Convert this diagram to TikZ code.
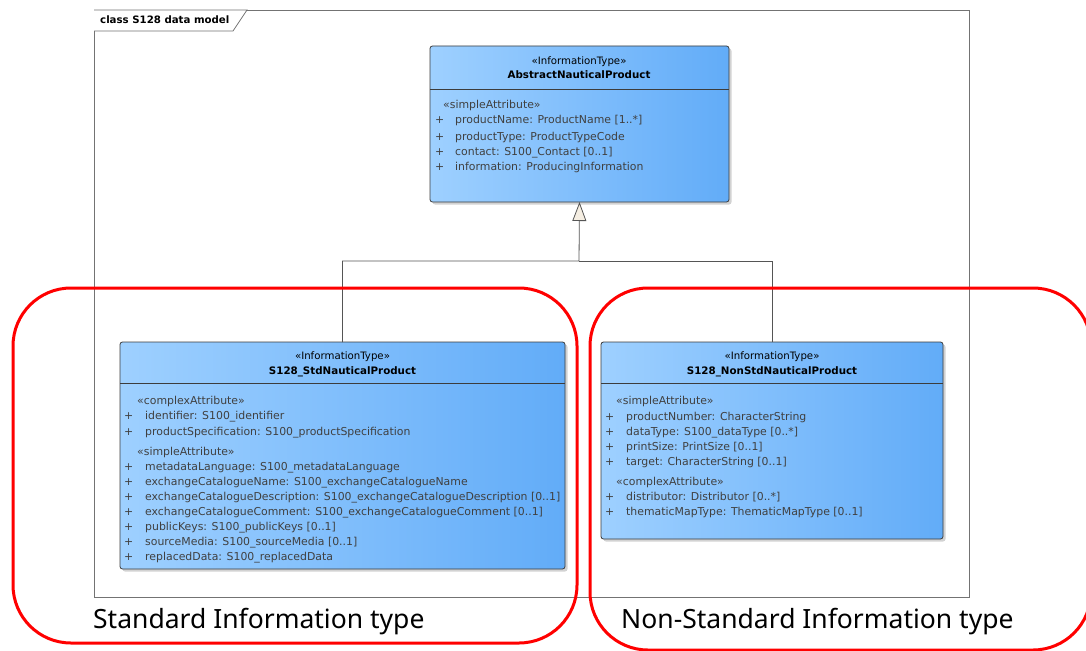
\documentclass[tikz,border=0pt]{standalone}
\usepackage{fontspec}
\setmainfont{DejaVu Sans}
\newfontfamily\labelfont{Noto Sans}
\usetikzlibrary{arrows.meta,shadows}
\definecolor{boxL}{RGB}{158,208,255}
\definecolor{boxR}{RGB}{98,172,248}
\definecolor{boxline}{RGB}{60,60,60}
\definecolor{attr}{RGB}{64,64,64}
\definecolor{tri}{RGB}{245,238,226}
\definecolor{conn}{RGB}{85,85,85}
\begin{document}
\begin{tikzpicture}[x=1pt,y=-1pt,
  umlbox/.style={draw=boxline, line width=0.8pt, rounded corners=2.5pt, left color=boxL, right color=boxR,
    inner sep=0pt, outer sep=0pt, anchor=north west,
    drop shadow={shadow xshift=2.5pt, shadow yshift=-2.5pt, fill=black!35, opacity=0.5}},
  sep/.style={draw=boxline, line width=0.8pt},
  txt/.style={font=\fontsize{10.9}{12}\selectfont, text=attr, inner sep=0pt, anchor=base west},
  stereo/.style={font=\fontsize{10.2}{12}\selectfont, text=black, inner sep=0pt, anchor=base},
  cname/.style={font=\bfseries\fontsize{10.3}{12}\selectfont, text=black, inner sep=0pt, anchor=base},
  conline/.style={draw=conn, line width=0.8pt},
  redbox/.style={draw=red, line width=3pt, rounded corners=58pt, inner sep=0pt, outer sep=0pt, anchor=north west},
  biglabel/.style={font=\labelfont\fontsize{26.5}{30}\selectfont, text=black, inner sep=0pt, anchor=base west}
]
\useasboundingbox (0,0) rectangle (1086,650);
\clip (0,0) rectangle (1086,650);
\fill[white] (0,0) rectangle (1086,650);

% frame
\node[draw=black!55, line width=0.8pt, inner sep=0pt, outer sep=0pt, anchor=north west,
  minimum width=875pt, minimum height=587pt] (frame) at (94,10) {};
\draw[draw=black!55, line width=0.8pt, fill=white] (frame.north west) -- (247,10) -- (233,31) -- (94,31);
\node[font=\bfseries\fontsize{10.2}{12}\selectfont, inner sep=0pt, anchor=base west] (framelbl) at (100,24) {class S128 data model};

% top class
\node[umlbox, minimum width=299pt, minimum height=156pt] (abs) at (430,46) {};
\draw[sep] ([yshift=-43pt]abs.north west) -- ([yshift=-43pt]abs.north east);
\node[stereo] (absst) at (579,65) {«InformationType»};
\node[cname] (absnm) at (579,79) {AbstractNauticalProduct};
\node[txt] (a0) at (443,109) {«simpleAttribute»};
\node[txt] (ap1) at (435,124) {+}; \node[txt] (a1) at (455,124) {productName: ProductName [1..*]};
\node[txt] (ap2) at (435,140) {+}; \node[txt] (a2) at (455,140) {productType: ProductTypeCode};
\node[txt] (ap3) at (435,155) {+}; \node[txt] (a3) at (455,155) {contact: S100\_Contact [0..1]};
\node[txt] (ap4) at (435,170) {+}; \node[txt] (a4) at (455,170) {information: ProducingInformation};

% left class
\node[umlbox, minimum width=445pt, minimum height=227pt] (std) at (120,342) {};
\draw[sep] ([yshift=-41pt]std.north west) -- ([yshift=-41pt]std.north east);
\node[stereo] (stdst) at (342.5,359) {«InformationType»};
\node[cname] (stdnm) at (342.5,374) {S128\_StdNauticalProduct};
\node[txt] (s0) at (137,404) {«complexAttribute»};
\node[txt] (sp1) at (124,419) {+}; \node[txt] (s1) at (145,419) {identifier: S100\_identifier};
\node[txt] (sp2) at (124,435) {+}; \node[txt] (s2) at (145,435) {productSpecification: S100\_productSpecification};
\node[txt] (s3) at (137,455) {«simpleAttribute»};
\node[txt] (sp4) at (124,470) {+}; \node[txt] (s4) at (145,470) {metadataLanguage: S100\_metadataLanguage};
\node[txt] (sp5) at (124,485) {+}; \node[txt] (s5) at (145,485) {exchangeCatalogueName: S100\_exchangeCatalogueName};
\node[txt] (sp6) at (124,500) {+}; \node[txt] (s6) at (145,500) {exchangeCatalogueDescription: S100\_exchangeCatalogueDescription [0..1]};
\node[txt] (sp7) at (124,515) {+}; \node[txt] (s7) at (145,515) {exchangeCatalogueComment: S100\_exchangeCatalogueComment [0..1]};
\node[txt] (sp8) at (124,530) {+}; \node[txt] (s8) at (145,530) {publicKeys: S100\_publicKeys [0..1]};
\node[txt] (sp9) at (124,545) {+}; \node[txt] (s9) at (145,545) {sourceMedia: S100\_sourceMedia [0..1]};
\node[txt] (sp10) at (124,560) {+}; \node[txt] (s10) at (145,560) {replacedData: S100\_replacedData};

% right class
\node[umlbox, minimum width=342pt, minimum height=197pt] (non) at (601,342) {};
\draw[sep] ([yshift=-41pt]non.north west) -- ([yshift=-41pt]non.north east);
\node[stereo] (nonst) at (772,359) {«InformationType»};
\node[cname] (nonnm) at (772,374) {S128\_NonStdNauticalProduct};
\node[txt] (n0) at (616,404) {«simpleAttribute»};
\node[txt] (np1) at (605,420) {+}; \node[txt] (n1) at (626,420) {productNumber: CharacterString};
\node[txt] (np2) at (605,435) {+}; \node[txt] (n2) at (626,435) {dataType: S100\_dataType [0..*]};
\node[txt] (np3) at (605,450) {+}; \node[txt] (n3) at (626,450) {printSize: PrintSize [0..1]};
\node[txt] (np4) at (605,465) {+}; \node[txt] (n4) at (626,465) {target: CharacterString [0..1]};
\node[txt] (n5) at (616,485) {«complexAttribute»};
\node[txt] (np6) at (605,500) {+}; \node[txt] (n6) at (626,500) {distributor: Distributor [0..*]};
\node[txt] (np7) at (605,515) {+}; \node[txt] (n7) at (626,515) {thematicMapType: ThematicMapType [0..1]};

% generalization
\coordinate (j) at (579,261);
\draw[conline, -{Triangle[length=19pt,width=14pt,fill=tri]}] (std.north) |- (j) -- (abs.south);
\draw[conline] (non.north) |- (j);

% red highlight boxes
\node[redbox, minimum width=564pt, minimum height=355pt] (redL) at (13,288) {};
\node[redbox, minimum width=501pt, minimum height=362pt] (redR) at (590,288) {};
\node[biglabel] (lblL) at (93,628) {Standard Information type};
\node[biglabel] (lblR) at (621,628) {Non-Standard Information type};
\end{tikzpicture}
\end{document}
